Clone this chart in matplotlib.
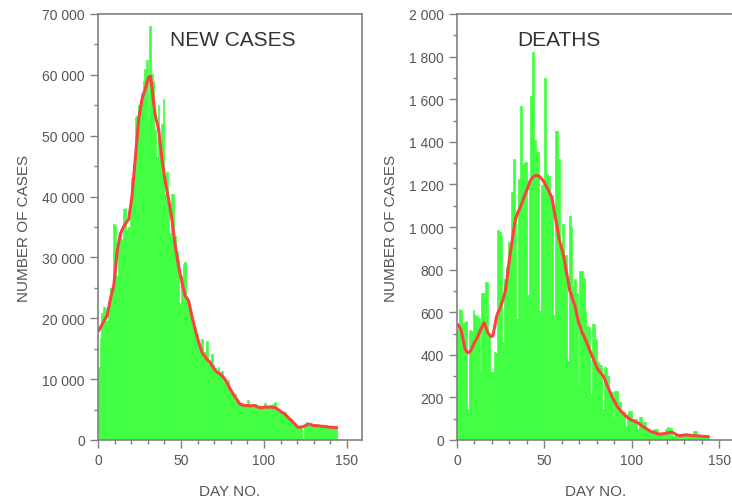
import numpy as np
import matplotlib.pyplot as plt
from matplotlib.ticker import MultipleLocator, FuncFormatter

# Daily values (day 0 .. 143)
cases = [
    12000, 16800, 20800, 21800, 21700, 19500, 22500, 25000, 23800, 35500,
    35200, 27000, 33300, 34000, 33000, 38000, 38200, 34500, 35000, 39000,
    43000, 45500, 53000, 53200, 55000, 55600, 57000, 59000, 61000, 62500,
    52800, 68000, 60200, 59000, 51000, 46500, 55000, 48000, 52000, 56000,
    40500, 44000, 39000, 34000, 40500, 40400, 33500, 31000, 29500, 22500,
    27000, 29000, 29200, 23500, 22000, 21500, 20000, 19500, 18500, 17500,
    14800, 15500, 16600, 14000, 14500, 16200, 12500, 13000, 14100, 12400,
    11800, 11200, 12000, 10600, 11400, 10500, 10000, 9500, 9800, 8500,
    8000, 7300, 7500, 6500, 6200, 5700, 6100, 5600, 5800, 5400,
    6600, 5700, 5600, 5400, 5900, 5500, 5300, 5200, 5500, 5400,
    6100, 5300, 5400, 5800, 5200, 5900, 6300, 5000, 4800, 4900,
    4400, 4300, 4600, 3900, 3600, 3500, 3100, 3000, 2600, 2400,
    2100, 2200, 2300, 100, 2300, 2900, 2700, 2500, 2400, 2300,
    2600, 2400, 2500, 2200, 2300, 2400, 2200, 2100, 2200, 2300,
    2100, 2200, 2100, 2100,
]
cases_avg = [
    18000, 18500, 19000, 19500, 20000, 20400, 21800, 23200, 24300, 25400,
    28000, 30900, 32500, 33900, 34500, 35100, 35500, 35900, 36300, 38200,
    40100, 43200, 46200, 49500, 52700, 54400, 56000, 56900, 57700, 58700,
    59600, 59800, 58000, 55500, 53300, 52200, 51100, 48600, 46200, 44300,
    42400, 41000, 39600, 38000, 36300, 34100, 31900, 30200, 28600, 27300,
    26000, 24800, 23700, 23300, 22900, 21700, 20400, 19300, 18200, 17100,
    16200, 15300, 14500, 14000, 13700, 13300, 13000, 12800, 12300, 11900,
    11500, 11200, 11000, 10850, 10600, 10300, 10000, 9500, 9000, 8400,
    8000, 7500, 7100, 6700, 6300, 5900, 5800, 5700, 5650, 5650,
    5650, 5600, 5650, 5650, 5650, 5500, 5400, 5350, 5300, 5350,
    5400, 5400, 5400, 5400, 5400, 5350, 5350, 5200, 5000, 4800,
    4600, 4450, 4250, 4000, 3700, 3450, 3200, 2900, 2650, 2350,
    2100, 2100, 2150, 2200, 2300, 2450, 2600, 2600, 2500, 2400,
    2350, 2350, 2350, 2300, 2250, 2250, 2200, 2200, 2150, 2100,
    2100, 2100, 2050, 2050,
]
deaths = [
    520, 615, 610, 550, 555, 560, 145, 515, 510, 610,
    585, 580, 575, 325, 690, 690, 740, 740, 500, 318,
    320, 415, 410, 985, 975, 960, 460, 755, 810, 930,
    930, 1165, 1320, 1075, 570, 1225, 1570, 1290, 1300, 1305,
    680, 1210, 1615, 1820, 1410, 1350, 1350, 605, 1195, 1200,
    1700, 1250, 1240, 1160, 1150, 585, 1450, 1450, 1320, 890,
    1015, 865, 870, 372, 1050, 1000, 725, 755, 690, 255,
    795, 795, 760, 600, 535, 530, 216, 545, 545, 475,
    365, 350, 350, 146, 345, 340, 300, 225, 225, 99,
    230, 230, 180, 178, 130, 130, 67, 122, 138, 138,
    99, 99, 99, 52, 106, 106, 84, 84, 52, 52,
    36, 36, 52, 52, 52, 33, 33, 33, 33, 52,
    60, 55, 55, 17, 17, 17, 30, 30, 30, 30,
    25, 25, 25, 25, 25, 41, 41, 20, 20, 20,
    20, 20, 20, 20,
]
deaths_avg = [
    540, 530, 510, 470, 430, 415, 410, 415, 430, 450,
    465, 480, 498, 515, 535, 550, 530, 505, 495, 485,
    490, 530, 575, 600, 615, 640, 665, 695, 750, 818,
    880, 930, 990, 1040, 1060, 1080, 1100, 1120, 1145, 1165,
    1185, 1210, 1225, 1235, 1240, 1242, 1240, 1235, 1225, 1215,
    1200, 1185, 1170, 1150, 1130, 1080, 1035, 990, 940, 910,
    880, 840, 790, 750, 700, 680, 650, 630, 590, 552,
    530, 505, 490, 470, 450, 430, 410, 390, 370, 350,
    333, 322, 312, 302, 285, 265, 245, 225, 205, 190,
    175, 158, 148, 138, 130, 122, 113, 106, 100, 95,
    91, 88, 84, 80, 75, 68, 62, 57, 52, 47,
    42, 38, 36, 33, 30, 28, 28, 29, 30, 31,
    33, 35, 36, 35, 30, 25, 22, 20, 21, 23,
    24, 24, 23, 22, 21, 20, 20, 19, 19, 18,
    17, 17, 16, 16,
]

days = np.arange(len(cases))

GREEN = '#40ff40'
RED = '#ff4040'
TXT = '#555555'
AX = '#808080'

plt.rcParams['font.family'] = ['Liberation Sans', 'DejaVu Sans']

fig = plt.figure(figsize=(7.32, 5.02), dpi=100)
ax1 = fig.add_axes([98 / 732, 61 / 502, 264 / 732, 426 / 502])
# right panel runs past the image edge, as in the original screenshot
ax2 = fig.add_axes([457 / 732, 61 / 502, 278 / 732, 426 / 502])


def space_thousands(v, pos):
    return f'{int(v):,}'.replace(',', ' ')


def draw(ax, bars, avg, ymax, ymajor, yminor, title, title_x):
    ax.bar(days, bars, width=1.0, align='edge', color=GREEN,
           edgecolor=GREEN, linewidth=0.5)
    ax.plot(days + 0.5, avg, color=RED, lw=2.2)
    ax.set_xlim(0, 159)
    ax.set_ylim(0, ymax)
    ax.xaxis.set_major_locator(MultipleLocator(50))
    ax.xaxis.set_minor_locator(MultipleLocator(10))
    ax.yaxis.set_major_locator(MultipleLocator(ymajor))
    ax.yaxis.set_minor_locator(MultipleLocator(yminor))
    ax.yaxis.set_major_formatter(FuncFormatter(space_thousands))
    ax.tick_params(which='major', length=6, width=1, color=AX,
                   labelcolor=TXT, labelsize=10, direction='out')
    ax.tick_params(which='minor', length=3, width=1, color=AX, direction='out')
    for s in ax.spines.values():
        s.set_color(AX)
        s.set_linewidth(1.2)
    ax.set_xlabel('DAY NO.', color=TXT, fontsize=11, labelpad=12)
    ax.set_ylabel('NUMBER OF CASES', color=TXT, fontsize=11, labelpad=8)
    ax.text(title_x, 0.94, title, transform=ax.transAxes, fontsize=15,
            color='#333333', ha='center', va='center')


draw(ax1, cases, cases_avg, 70000, 10000, 5000, 'NEW CASES', 0.51)
draw(ax2, deaths, deaths_avg, 2000, 200, 100, 'DEATHS', 0.367)

fig.savefig('out.png', dpi=100)
